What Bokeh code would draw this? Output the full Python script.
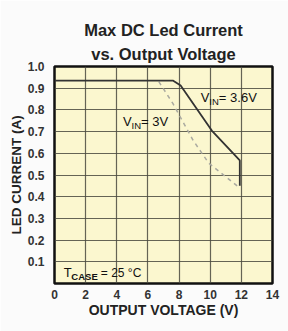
from bokeh.plotting import figure
from bokeh.models import Title, FixedTicker, Range1d, PrintfTickFormatter
from bokeh.core.properties import value
from bokeh.embed import file_html
from bokeh.resources import INLINE

# Data
v36_x = [0, 7.6, 8.1, 10.1, 11.9, 11.9]
v36_y = [0.935, 0.935, 0.912, 0.705, 0.567, 0.45]
v3_x = [6.7, 7.6, 8.9, 9.9, 11.9]
v3_y = [0.93, 0.83, 0.66, 0.555, 0.44]
x_ticks = [0, 2, 4, 6, 8, 10, 12, 14]
y_ticks = [0.1, 0.2, 0.3, 0.4, 0.5, 0.6, 0.7, 0.8, 0.9, 1.0]

FONT = "Liberation Sans"

p = figure(width=288, height=331, output_backend="svg", toolbar_location=None,
           x_range=Range1d(0, 14), y_range=Range1d(0, 1.0),
           title="Max DC Led Current",
           min_border_left=54, min_border_right=16, min_border_bottom=48, min_border_top=66)

p.title.text_font = FONT
p.title.text_font_size = "16.5px"
p.title.text_font_style = "bold"
p.title.align = "center"
p.title.text_color = "#222222"
p.title.standoff = 0
t2 = Title(text="vs. Output Voltage", align="center", text_font=FONT,
           text_font_size="16.5px", text_font_style="bold", text_color="#222222",
           standoff=8)
p.add_layout(t2, "above")

p.background_fill_color = "#fbf7cf"
p.border_fill_color = "#fbfbfb"
p.outline_line_color = "#111111"
p.outline_line_width = 2.5

p.xaxis.ticker = FixedTicker(ticks=x_ticks)
p.yaxis.ticker = FixedTicker(ticks=y_ticks)
p.yaxis.formatter = PrintfTickFormatter(format="%.1f")
for ax in (p.xaxis[0], p.yaxis[0]):
    ax.axis_line_color = None
    ax.major_tick_line_color = None
    ax.minor_tick_line_color = None
    ax.major_label_text_font = FONT
    ax.major_label_text_font_style = "bold"
    ax.major_label_text_font_size = "12px"
    ax.major_label_text_color = "#333333"
    ax.axis_label_text_font = FONT
    ax.axis_label_text_font_style = "bold"
    ax.axis_label_text_font_size = "14px"
    ax.axis_label_text_color = "#222222"
p.xaxis.axis_label = "OUTPUT VOLTAGE (V)"
p.yaxis.axis_label = "LED CURRENT (A)"
p.yaxis.axis_label_text_font_size = "13.5px"
p.xaxis.major_label_standoff = 0
p.yaxis.major_label_standoff = 4
p.xaxis.axis_label_standoff = 0
p.yaxis.axis_label_standoff = 1

p.xgrid.ticker = FixedTicker(ticks=x_ticks)
p.ygrid.ticker = FixedTicker(ticks=y_ticks)
p.grid.grid_line_color = "#4a4a40"
p.grid.grid_line_width = 1.2
p.grid.grid_line_alpha = 0.85

p.line(v3_x, v3_y, line_color="#aaaaa0", line_width=1.5, line_dash="4 4")
p.line(v36_x, v36_y, line_color="#333333", line_width=1.8)

def sub_label(x, y, main, sub, rest, sub_dx, rest_dx):
    p.text([x], [y], text=[main], text_font=value(FONT), text_font_size="13px",
           text_color="#111111", text_baseline="middle")
    p.text([x], [y], text=[sub], text_font=value(FONT), text_font_size="9.5px",
           text_color="#111111", text_baseline="middle", x_offset=8.5, y_offset=4)
    p.text([x], [y], text=[rest], text_font=value(FONT), text_font_size="13px",
           text_color="#111111", text_baseline="middle", x_offset=rest_dx)

sub_label(9.4, 0.855, "V", "IN", " = 3.6V", 8, 18)
sub_label(4.4, 0.745, "V", "IN", "= 3V", 8, 18)
p.text([0.6], [0.05], text=["T"], text_font=value(FONT), text_font_size="13px",
       text_color="#111111", text_baseline="middle")
p.text([0.6], [0.05], text=["CASE"], text_font=value(FONT), text_font_size="9.5px",
       text_color="#111111", text_baseline="middle", x_offset=7.5, y_offset=4, text_font_style="bold")
p.text([0.6], [0.05], text=["= 25 \u00b0C"], text_font=value(FONT), text_font_size="12px",
       text_color="#111111", text_baseline="middle", x_offset=37)

open("out.html", "w").write(file_html(p, INLINE))
